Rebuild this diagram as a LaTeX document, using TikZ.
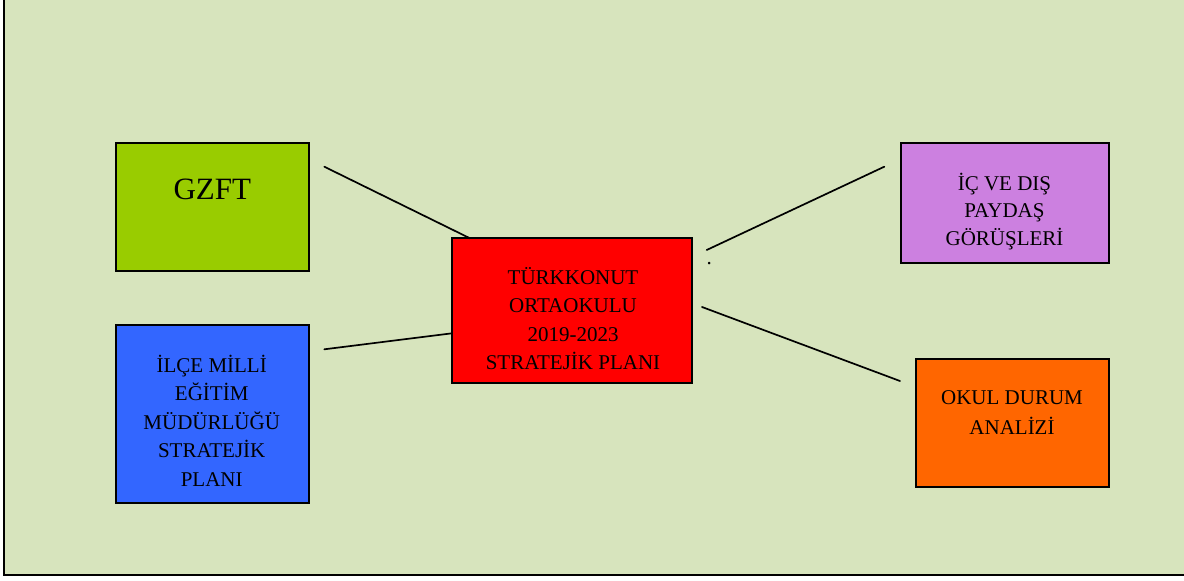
\documentclass[tikz,border=0pt]{standalone}
\usepackage{fontspec}
\setmainfont{Liberation Serif}
\definecolor{bgc}{RGB}{215,228,189}
\definecolor{gzftc}{RGB}{153,204,0}
\definecolor{bluec}{RGB}{51,102,255}
\definecolor{redc}{RGB}{255,0,0}
\definecolor{purplec}{RGB}{204,128,224}
\definecolor{orangec}{RGB}{255,102,0}
\begin{document}
\begin{tikzpicture}[x=1pt,y=-1pt,
  box/.style={draw=black,line width=2pt,inner sep=0pt,rectangle},
  lbl/.style={align=center,inner sep=0pt,font=\fontsize{21}{28.4}\selectfont},
  conn/.style={line width=1.7pt,line cap=round}]
\useasboundingbox (0,0) rectangle (1184,581);
\fill[bgc] (4,0) rectangle (1184,575);
\draw[line width=1.8pt] (4,0) -- (4,575) -- (1184,575);
% boxes
\node[box,fill=gzftc,minimum width=193pt,minimum height=128pt] (gzft) at (212.3,206.7) {};
\node[box,fill=redc,minimum width=240pt,minimum height=144.4pt] (merkez) at (572.3,310.5) {};
\node[box,fill=bluec,minimum width=193pt,minimum height=177.7pt] (ilce) at (212.5,413.9) {};
\node[box,fill=purplec,minimum width=208.3pt,minimum height=120pt] (paydas) at (1004.9,202.7) {};
\node[box,fill=orangec,minimum width=193pt,minimum height=128pt] (durum) at (1012.5,422.7) {};
% texts
\node[inner sep=0pt,anchor=base,font=\fontsize{31}{37}\selectfont] (tgzft) at (212.3,199.5) {GZFT};
\node[lbl] (tmerkez) at (573,321.4) {\strut TÜRKKONUT\\ORTAOKULU\\2019-2023\\STRATEJİK PLANI\strut};
\node[lbl] (tilce) at (211.7,423.6) {\strut İLÇE MİLLİ\\EĞİTİM\\MÜDÜRLÜĞÜ\\STRATEJİK\\PLANI\strut};
\node[lbl,font=\fontsize{21}{27.75}\selectfont] (tpaydas) at (1004.5,212.3) {\strut İÇ VE DIŞ\\PAYDAŞ\\GÖRÜŞLERİ\strut};
\node[lbl,font=\fontsize{21}{29.4}\selectfont] (tdurum) at (1012,413.8) {\strut OKUL DURUM\\ANALİZİ\strut};
\node[inner sep=0pt,anchor=base,font=\fontsize{21}{25}\selectfont] (nokta) at (709.3,264) {.};
% connector ends
\coordinate (a1) at (324.3,166.7);
\coordinate (a2) at (470,238.3);
\coordinate (b1) at (324.3,349.3);
\coordinate (b2) at (452,333.3);
\coordinate (c1) at (706.7,250);
\coordinate (c2) at (884.3,166.7);
\coordinate (d1) at (702,307);
\coordinate (d2) at (900,381);
\draw[conn] (a1) -- (a2);
\draw[conn] (b1) -- (b2);
\draw[conn] (c1) -- (c2);
\draw[conn] (d1) -- (d2);
\end{tikzpicture}
\end{document}
